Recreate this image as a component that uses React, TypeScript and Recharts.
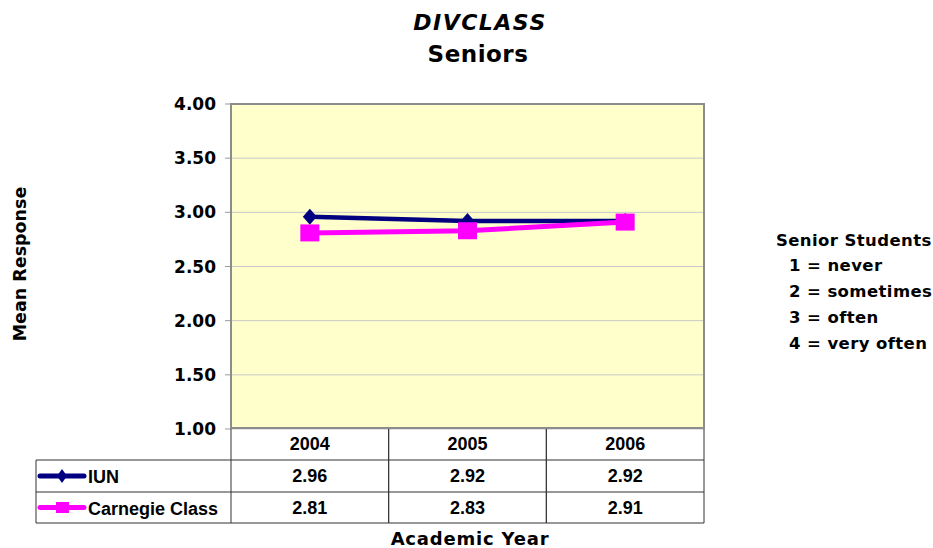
import React from 'react';
import {
  LineChart,
  Line,
  XAxis,
  YAxis,
  CartesianGrid,
} from 'recharts';

// --- data ---
const YEARS = ['2004', '2005', '2006'];
const IUN = [2.96, 2.92, 2.92];
const CARNEGIE = [2.81, 2.83, 2.91];
const SERIES_NAMES = ['IUN', 'Carnegie Class'];
const Y_TICKS = [1, 1.5, 2, 2.5, 3, 3.5, 4];
const SCALE_NOTES = ['1 = never', '2 = sometimes', '3 = often', '4 = very often'];

const data = YEARS.map((year, i) => ({ year, iun: IUN[i], carnegie: CARNEGIE[i] }));

// --- layout ---
const W = 933;
const H = 548;
const PLOT_LEFT = 231;
const PLOT_RIGHT = 704;
const PLOT_TOP = 104;
const PLOT_BOTTOM = 428;
const CELL_W = (PLOT_RIGHT - PLOT_LEFT) / YEARS.length;
const ROWS = [PLOT_BOTTOM, 460, 492, 523]; // table row boundaries
const TABLE_LEFT = 36;

const NAVY = '#000080';
const PINK = '#FF00FF';
const WIDE = '"DejaVu Sans", sans-serif';
const ARIAL = '"Liberation Sans", Arial, sans-serif';

const rowMid = (r: number) => (ROWS[r] + ROWS[r + 1]) / 2;

// one column of the data table, positioned by the x scale
const TableTick = (props: any) => {
  const { x, payload } = props;
  const i = payload.index;
  const l = x - CELL_W / 2;
  const r = x + CELL_W / 2;
  const txt = { fontFamily: ARIAL, fontWeight: 700, fontSize: 18, fill: '#000' };
  return (
    <g>
      <line x1={l} x2={l} y1={ROWS[0]} y2={ROWS[3]} stroke="#333" strokeWidth={1} />
      <line x1={r} x2={r} y1={ROWS[0]} y2={ROWS[3]} stroke="#333" strokeWidth={1} />
      {ROWS.slice(1).map((y) => (
        <line key={y} x1={l} x2={r} y1={y} y2={y} stroke="#333" strokeWidth={1} />
      ))}
      <text x={x} y={rowMid(0)} textAnchor="middle" dominantBaseline="central" {...txt}>
        {YEARS[i]}
      </text>
      <text x={x} y={rowMid(1)} textAnchor="middle" dominantBaseline="central" {...txt}>
        {IUN[i].toFixed(2)}
      </text>
      <text x={x} y={rowMid(2)} textAnchor="middle" dominantBaseline="central" {...txt}>
        {CARNEGIE[i].toFixed(2)}
      </text>
    </g>
  );
};

const Diamond = (props: any) => {
  const { cx, cy } = props;
  if (cx == null || cy == null) return null;
  return (
    <polygon
      points={`${cx},${cy - 8} ${cx + 7},${cy} ${cx},${cy + 8} ${cx - 7},${cy}`}
      fill={NAVY}
    />
  );
};

const Square = (props: any) => {
  const { cx, cy } = props;
  if (cx == null || cy == null) return null;
  return <rect x={cx - 9.5} y={cy - 8.5} width={19} height={17} fill={PINK} />;
};

export default function App() {
  return (
    <div style={{ position: 'absolute', left: 0, top: 0, width: W, height: H, background: '#fff' }}>
      <LineChart
        width={W}
        height={H}
        data={data}
        margin={{ top: PLOT_TOP, right: W - PLOT_RIGHT, bottom: H - ROWS[3] - 1, left: PLOT_LEFT - 60 }}
      >
        <CartesianGrid vertical={false} stroke="#c8c8c8" fill="#FFFFCC" fillOpacity={1} />
        <XAxis
          dataKey="year"
          interval={0}
          axisLine={false}
          tickLine={false}
          padding={{ left: CELL_W / 2, right: CELL_W / 2 }}
          height={ROWS[3] - PLOT_BOTTOM}
          tick={<TableTick />}
        />
        <YAxis
          domain={[1, 4]}
          ticks={Y_TICKS}
          width={60}
          axisLine={false}
          tickLine={{ stroke: '#9a9a9a' }}
          tickSize={6}
          tickMargin={9}
          tickFormatter={(v: number) => v.toFixed(2)}
          tick={{ fontFamily: WIDE, fontWeight: 700, fontSize: 17, fill: '#000' }}
        />
        <Line
          dataKey="iun"
          stroke={NAVY}
          strokeWidth={4.5}
          dot={<Diamond />}
          activeDot={false}
          isAnimationActive={false}
        />
        <Line
          dataKey="carnegie"
          stroke={PINK}
          strokeWidth={5}
          dot={<Square />}
          activeDot={false}
          isAnimationActive={false}
        />
      </LineChart>

      <svg
        width={W}
        height={H}
        style={{ position: 'absolute', left: 0, top: 0, pointerEvents: 'none' }}
      >
        {/* plot frame */}
        <rect
          x={PLOT_LEFT}
          y={PLOT_TOP}
          width={PLOT_RIGHT - PLOT_LEFT}
          height={PLOT_BOTTOM - PLOT_TOP}
          fill="none"
          stroke="#8c8c8c"
          strokeWidth={2}
        />

        {/* titles */}
        <text x={480} y={22} textAnchor="middle" dominantBaseline="central"
          fontFamily={WIDE} fontWeight={700} fontStyle="italic" fontSize={22} letterSpacing={1.5}>
          DIVCLASS
        </text>
        <text x={478} y={54} textAnchor="middle" dominantBaseline="central"
          fontFamily={WIDE} fontWeight={700} fontSize={23} letterSpacing={0.5}>
          Seniors
        </text>

        {/* axis titles */}
        <text x={20} y={264} textAnchor="middle" dominantBaseline="central"
          transform="rotate(-90 20 264)" fontFamily={WIDE} fontWeight={700} fontSize={17.5}>
          Mean Response
        </text>
        <text x={470} y={538} textAnchor="middle" dominantBaseline="central"
          fontFamily={WIDE} fontWeight={700} fontSize={18} letterSpacing={0.8}>
          Academic Year
        </text>

        {/* row headers of the data table */}
        <line x1={TABLE_LEFT} x2={TABLE_LEFT} y1={ROWS[1]} y2={ROWS[3]} stroke="#333" />
        {ROWS.slice(1).map((y) => (
          <line key={y} x1={TABLE_LEFT} x2={PLOT_LEFT} y1={y} y2={y} stroke="#333" />
        ))}
        <line x1={40} x2={84} y1={rowMid(1)} y2={rowMid(1)} stroke={NAVY} strokeWidth={5} strokeLinecap="round" />
        <polygon
          points={`62,${rowMid(1) - 7} 67,${rowMid(1)} 62,${rowMid(1) + 7} 57,${rowMid(1)}`}
          fill={NAVY}
        />
        <line x1={40} x2={84} y1={rowMid(2)} y2={rowMid(2)} stroke={PINK} strokeWidth={5} strokeLinecap="round" />
        <rect x={56} y={rowMid(2) - 5.5} width={13} height={11} fill={PINK} />
        <text x={88} y={rowMid(1) + 1} dominantBaseline="central" fontFamily={ARIAL} fontWeight={700} fontSize={18}>
          {SERIES_NAMES[0]}
        </text>
        <text x={88} y={rowMid(2) + 1} dominantBaseline="central" fontFamily={ARIAL} fontWeight={700} fontSize={18}>
          {SERIES_NAMES[1]}
        </text>

        {/* scale notes */}
        <text x={776} y={240} dominantBaseline="central" fontFamily={WIDE} fontWeight={700} fontSize={16.5} letterSpacing={0.4}>
          Senior Students
        </text>
        {SCALE_NOTES.map((s, i) => (
          <text key={s} x={789} y={265 + i * 26} dominantBaseline="central"
            fontFamily={WIDE} fontWeight={700} fontSize={16.5} letterSpacing={0.4}>
            {s}
          </text>
        ))}
      </svg>
    </div>
  );
}
